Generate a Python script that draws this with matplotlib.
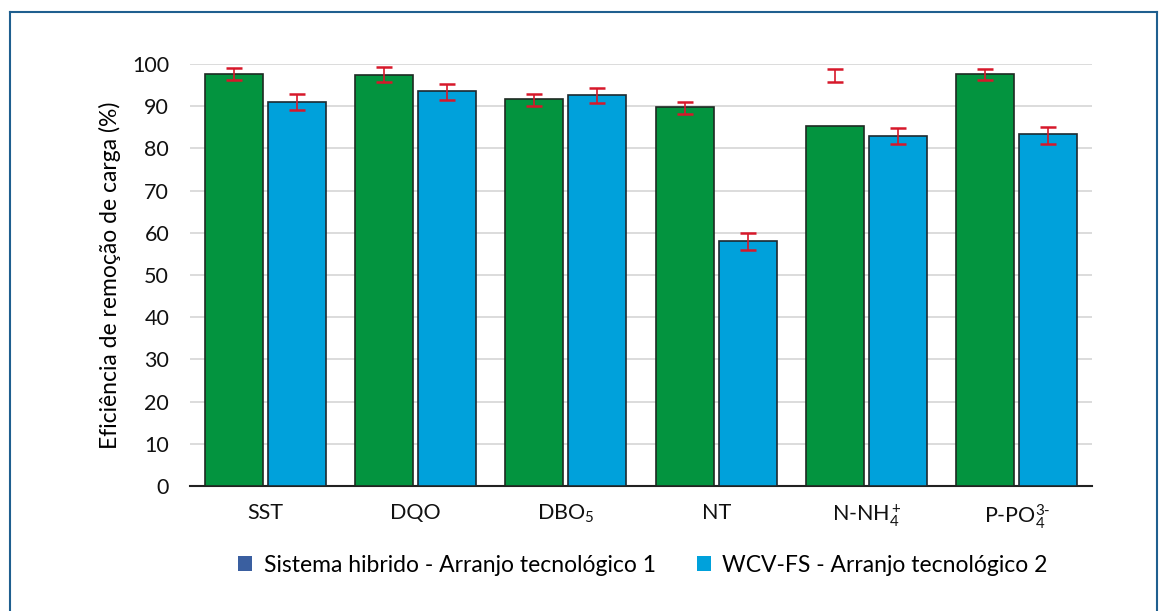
import matplotlib.pyplot as plt
import numpy as np
from matplotlib.lines import Line2D
from matplotlib.patches import Patch

categorias = ['SST', 'DQO', 'DBO$_5$', 'NT', 'N-NH$_4^+$', 'P-PO$_4^{3‐}$']
hibrido = [97.6, 97.4, 91.6, 89.8, 85.2, 97.6]
wcv = [91.0, 93.6, 92.7, 58.1, 82.9, 83.3]
# limites das barras de erro (inferior, superior)
hibrido_lo = [96.1, 95.7, 90.0, 88.2, 95.7, 96.2]
hibrido_hi = [99.0, 99.2, 92.9, 91.0, 98.9, 98.9]
wcv_lo = [89.1, 91.5, 90.8, 55.9, 81.0, 81.0]
wcv_hi = [93.0, 95.3, 94.3, 60.0, 84.9, 85.1]
labels = ['Sistema hibrido - Arranjo tecnológico 1', 'WCV-FS - Arranjo tecnológico 2']

plt.rcParams['font.family'] = ['Lato', 'DejaVu Sans']
plt.rcParams['mathtext.fontset'] = 'custom'
plt.rcParams['mathtext.rm'] = 'Lato'
plt.rcParams['mathtext.it'] = 'Lato'

fig = plt.figure(figsize=(11.67, 6.11), dpi=100)
ax = fig.add_axes([0.1628, 0.2046, 0.7729, 0.6907])

x = np.arange(len(categorias))
width = 0.385
off = 0.21
verde = '#03943f'
azul = '#00a1db'
vermelho = '#d7182a'

ax.bar(x - off, hibrido, width, color=verde, edgecolor='#1e2a22', linewidth=1.2, zorder=3)
ax.bar(x + off, wcv, width, color=azul, edgecolor='#1e2a30', linewidth=1.2, zorder=3)

lo1, hi1 = np.array(hibrido_lo), np.array(hibrido_hi)
lo2, hi2 = np.array(wcv_lo), np.array(wcv_hi)
ax.errorbar(x - off, (lo1 + hi1) / 2, yerr=(hi1 - lo1) / 2, fmt='none', ecolor=vermelho,
            elinewidth=1.2, capsize=6, capthick=1.8, zorder=4)
ax.errorbar(x + off, (lo2 + hi2) / 2, yerr=(hi2 - lo2) / 2, fmt='none', ecolor=vermelho,
            elinewidth=1.2, capsize=6, capthick=1.8, zorder=4)

ax.set_xlim(-0.5, len(categorias) - 0.5)
ax.set_ylim(0, 100)
ax.set_yticks(np.arange(0, 101, 10))
ax.yaxis.grid(True, color='#d9d9d9', linewidth=1.3, zorder=0)
ax.set_axisbelow(True)
for s in ['left', 'right', 'top']:
    ax.spines[s].set_visible(False)
ax.spines['bottom'].set_color('#222222')
ax.spines['bottom'].set_linewidth(1.5)
ax.tick_params(axis='both', length=0, labelsize=15.5, colors='#111111')
ax.tick_params(axis='y', pad=15)
ax.tick_params(axis='x', pad=12)
ax.set_xticks(x, categorias)
ax.set_ylabel('Eficiência de remoção de carga (%)', fontsize=16.5, labelpad=8)

handles = [Patch(facecolor='#3a5fa0', edgecolor='none'), Patch(facecolor=azul, edgecolor='none')]
fig.legend(handles, labels, loc='center', bbox_to_anchor=(0.551, 0.075), ncol=2,
           frameon=False, fontsize=16.5, handlelength=0.6, handleheight=0.6,
           handletextpad=0.5, columnspacing=1.8)

# moldura externa
borda = '#1f5f8f'
fig.add_artist(Line2D([0.0085, 0.0085], [0, 0.981], color=borda, lw=1.5, transform=fig.transFigure))
fig.add_artist(Line2D([0.0085, 0.9915], [0.981, 0.981], color=borda, lw=1.5, transform=fig.transFigure))
fig.add_artist(Line2D([0.9915, 0.9915], [0, 0.981], color=borda, lw=1.5, transform=fig.transFigure))

fig.savefig('out.png', dpi=100)
